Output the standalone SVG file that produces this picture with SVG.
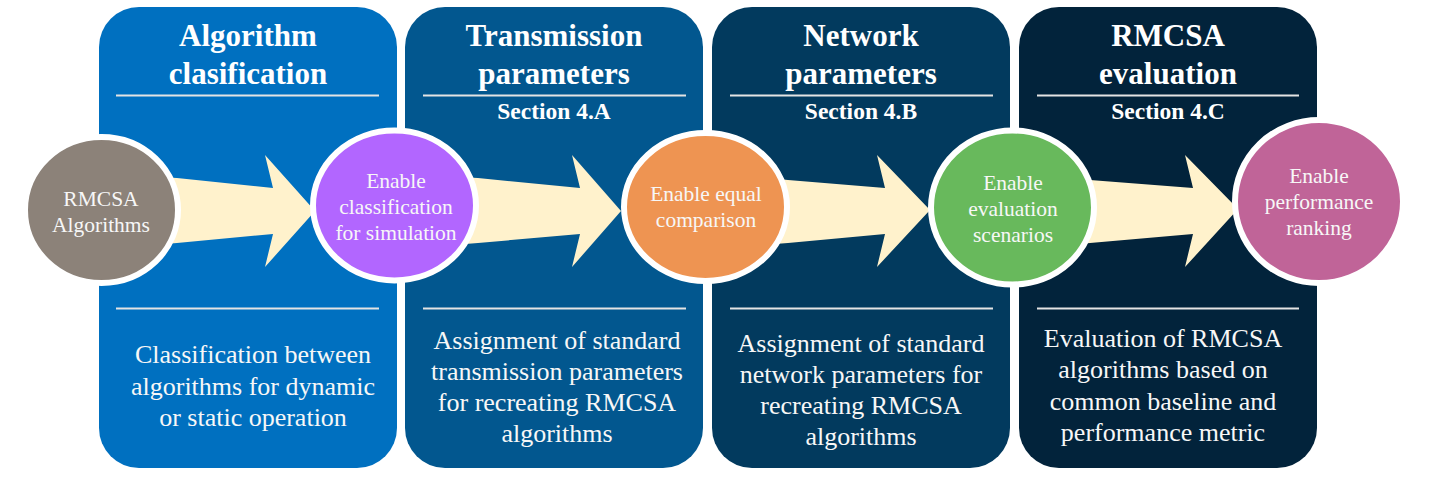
<svg xmlns="http://www.w3.org/2000/svg" width="1431" height="477" viewBox="0 0 1431 477" font-family="Liberation Serif, Times New Roman, serif">
<style>
text{fill:#ffffff;text-anchor:middle}
.title{font-size:31px;font-weight:bold}
.sec{font-size:23.5px;font-weight:bold}
.body{font-size:26px;fill:#f7f7f7}
.ct{font-size:21.5px;fill:#f7f7f7}
.rule{stroke:#e4e4e4;stroke-width:2.2}
.arrow{fill:#fff2cc}
.circ{stroke:#ffffff;stroke-width:6}
</style>
<rect width="1431" height="477" fill="#ffffff"/>
<g id="panel1" font-family="Liberation Serif">
<rect x="99" y="7" width="298" height="461" rx="40" fill="#0070c0"/>
<text class="title" x="248" y="46">Algorithm</text>
<text class="title" x="248" y="84">clasification</text>
<line class="rule" x1="116" y1="95.5" x2="379" y2="95.5"/>
<line class="rule" x1="116" y1="308.5" x2="379" y2="308.5"/>
<text class="body" x="253" y="363">Classification between</text>
<text class="body" x="253" y="394.5">algorithms for dynamic</text>
<text class="body" x="253" y="426">or static operation</text>
</g>
<g id="panel2" font-family="Liberation Serif">
<rect x="405" y="7" width="298" height="461" rx="40" fill="#02578f"/>
<text class="title" x="554" y="46">Transmission</text>
<text class="title" x="554" y="84">parameters</text>
<line class="rule" x1="423" y1="95.5" x2="686" y2="95.5"/>
<text class="sec" x="554" y="119">Section 4.A</text>
<line class="rule" x1="423" y1="308.5" x2="686" y2="308.5"/>
<text class="body" x="557" y="348.5">Assignment of standard</text>
<text class="body" x="557" y="379.5">transmission parameters</text>
<text class="body" x="557" y="410.5">for recreating RMCSA</text>
<text class="body" x="557" y="441.5">algorithms</text>
</g>
<g id="panel3" font-family="Liberation Serif">
<rect x="712" y="7" width="298" height="461" rx="40" fill="#023a5e"/>
<text class="title" x="861" y="46">Network</text>
<text class="title" x="861" y="84">parameters</text>
<line class="rule" x1="730" y1="95.5" x2="993" y2="95.5"/>
<text class="sec" x="861" y="119">Section 4.B</text>
<line class="rule" x1="730" y1="308.5" x2="993" y2="308.5"/>
<text class="body" x="861" y="352">Assignment of standard</text>
<text class="body" x="861" y="383">network parameters for</text>
<text class="body" x="861" y="414">recreating RMCSA</text>
<text class="body" x="861" y="445">algorithms</text>
</g>
<g id="panel4" font-family="Liberation Serif">
<rect x="1019" y="7" width="298" height="461" rx="40" fill="#02233b"/>
<text class="title" x="1168" y="46">RMCSA</text>
<text class="title" x="1168" y="84">evaluation</text>
<line class="rule" x1="1037" y1="95.5" x2="1299" y2="95.5"/>
<text class="sec" x="1168" y="119">Section 4.C</text>
<line class="rule" x1="1037" y1="308.5" x2="1299" y2="308.5"/>
<text class="body" x="1163" y="347">Evaluation of RMCSA</text>
<text class="body" x="1163" y="378">algorithms based on</text>
<text class="body" x="1163" y="409.5">common baseline and</text>
<text class="body" x="1163" y="440.5">performance metric</text>
</g>
<g id="connectors">
<polygon class="arrow" points="140,176 177,178 273,188 265,155 315,211 265,267 273,234 177,243 140,246"/>
<polygon class="arrow" points="440,176 478,178 580,188 572,155 621,211 572,267 580,234 478,243 440,246"/>
<polygon class="arrow" points="750,176 788,180 885,188 877,155 930,210 877,267 885,234 788,243 750,246"/>
<polygon class="arrow" points="1060,176 1090,180 1193,188 1185,155 1238,209 1185,267 1193,234 1090,243 1060,246"/>
</g>
<g id="node-rmcsa" font-family="Liberation Serif">
<ellipse class="circ" cx="101.5" cy="210" rx="76.5" ry="73" fill="#8c8279"/>
<text class="ct" x="101" y="206">RMCSA</text>
<text class="ct" x="101" y="232">Algorithms</text>
</g>
<g id="node-classification" font-family="Liberation Serif">
<ellipse class="circ" cx="394.5" cy="205.5" rx="81.5" ry="75" fill="#b266ff"/>
<text class="ct" x="396" y="188">Enable</text>
<text class="ct" x="396" y="214">classification</text>
<text class="ct" x="396" y="240">for simulation</text>
</g>
<g id="node-comparison" font-family="Liberation Serif">
<ellipse class="circ" cx="705.5" cy="207" rx="81.5" ry="74" fill="#ee9452"/>
<text class="ct" x="706" y="201">Enable equal</text>
<text class="ct" x="706" y="227">comparison</text>
</g>
<g id="node-scenarios" font-family="Liberation Serif">
<ellipse class="circ" cx="1012.5" cy="207.5" rx="81.5" ry="77" fill="#68b95c"/>
<text class="ct" x="1013" y="190">Enable</text>
<text class="ct" x="1013" y="216">evaluation</text>
<text class="ct" x="1013" y="242">scenarios</text>
</g>
<g id="node-ranking" font-family="Liberation Serif">
<ellipse class="circ" cx="1319" cy="201.5" rx="84" ry="81.5" fill="#c06498"/>
<text class="ct" x="1319" y="183">Enable</text>
<text class="ct" x="1319" y="209">performance</text>
<text class="ct" x="1319" y="235">ranking</text>
</g>
</svg>
